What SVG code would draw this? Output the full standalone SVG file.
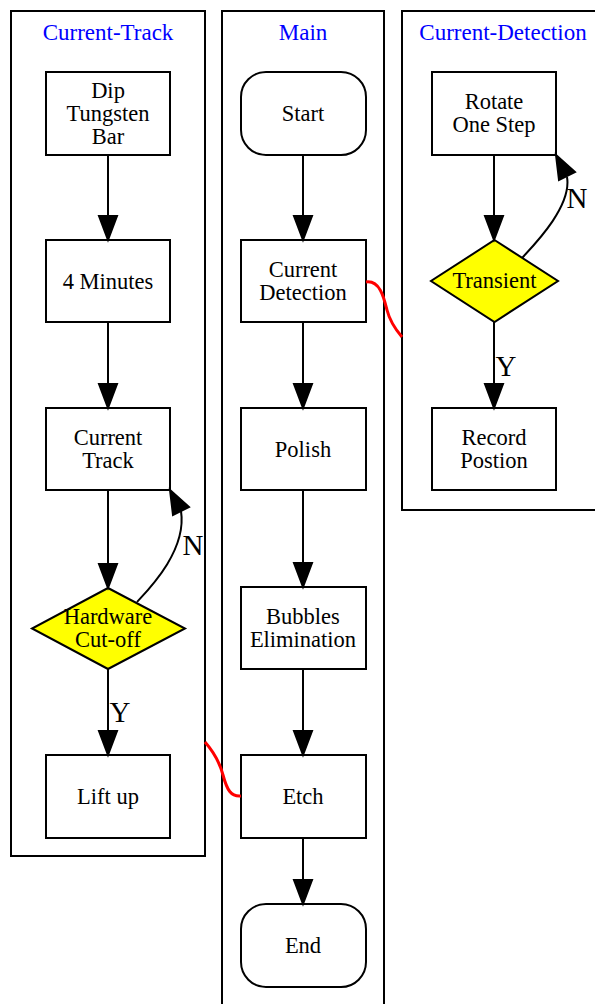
<svg xmlns="http://www.w3.org/2000/svg" width="595" height="1004" viewBox="0 0 595 1004">
<style>
.cl{fill:none;stroke:#000;stroke-width:2}
.cll{font-family:'Liberation Serif','Times New Roman',serif;font-size:23px;fill:#0000ff;text-anchor:middle}
.nd{fill:#fff;stroke:#000;stroke-width:2}
.dm{fill:#ffff00;stroke:#000;stroke-width:2}
.t{font-family:'Liberation Serif','Times New Roman',serif;font-size:22.5px;fill:#000;text-anchor:middle;dominant-baseline:central}
.e{fill:none;stroke:#000;stroke-width:2}
.ah{fill:#000;stroke:#000;stroke-width:2}
.r{fill:none;stroke:#ff0000;stroke-width:3}
.el{font-family:'Liberation Serif','Times New Roman',serif;font-size:29px;fill:#000;text-anchor:middle}
</style>
<rect width="595" height="1004" fill="#fff"/>
<g id="clusters">
<rect class="cl" x="11" y="11" width="194" height="845"/>
<text class="cll" x="108" y="40">Current-Track</text>
<rect class="cl" x="222" y="11" width="162" height="1010"/>
<text class="cll" x="303" y="40">Main</text>
<rect class="cl" x="402" y="11" width="210" height="499"/>
<text class="cll" x="503" y="40">Current-Detection</text>
</g>
<g id="n_dip"><rect class="nd" x="46" y="72" width="124" height="83"/><text class="t" x="108" y="90">Dip</text><text class="t" x="108" y="113">Tungsten</text><text class="t" x="108" y="136">Bar</text></g>
<g id="n_4min"><rect class="nd" x="46" y="240" width="124" height="82"/><text class="t" x="108" y="281">4 Minutes</text></g>
<g id="n_ctrack"><rect class="nd" x="46" y="408" width="124" height="82"/><text class="t" x="108" y="437">Current</text><text class="t" x="108" y="460">Track</text></g>
<g id="n_hw"><polygon class="dm" points="108,588 185,628.5 108,669 32,628.5"/><text class="t" x="108" y="616">Hardware</text><text class="t" x="108" y="639">Cut-off</text></g>
<g id="n_lift"><rect class="nd" x="46" y="755" width="124" height="83"/><text class="t" x="108" y="796">Lift up</text></g>
<g id="n_start"><rect class="nd" x="241" y="72" width="125" height="83" rx="25"/><text class="t" x="303" y="113">Start</text></g>
<g id="n_cdet"><rect class="nd" x="241" y="240" width="125" height="82"/><text class="t" x="303" y="269">Current</text><text class="t" x="303" y="292">Detection</text></g>
<g id="n_polish"><rect class="nd" x="241" y="408" width="125" height="82"/><text class="t" x="303" y="449">Polish</text></g>
<g id="n_bubbles"><rect class="nd" x="241" y="587" width="125" height="82"/><text class="t" x="303" y="616">Bubbles</text><text class="t" x="303" y="639">Elimination</text></g>
<g id="n_etch"><rect class="nd" x="241" y="755" width="125" height="83"/><text class="t" x="303" y="796">Etch</text></g>
<g id="n_end"><rect class="nd" x="241" y="904" width="125" height="83" rx="25"/><text class="t" x="303" y="945">End</text></g>
<g id="n_rotate"><rect class="nd" x="432" y="72" width="124" height="83"/><text class="t" x="494" y="101">Rotate</text><text class="t" x="494" y="124">One Step</text></g>
<g id="n_trans"><polygon class="dm" points="494.5,240 558,281 494.5,322 431,281"/><text class="t" x="494.5" y="280">Transient</text></g>
<g id="n_record"><rect class="nd" x="432" y="408" width="124" height="82"/><text class="t" x="494" y="437">Record</text><text class="t" x="494" y="460">Postion</text></g>
<g id="connectors">
<path class="e" d="M108,155V216"/><polygon class="ah" points="99,216 117,216 108,240"/>
<path class="e" d="M108,322V384"/><polygon class="ah" points="99,384 117,384 108,408"/>
<path class="e" d="M108,490V564"/><polygon class="ah" points="99,564 117,564 108,588"/>
<path class="e" d="M108,669V731"/><polygon class="ah" points="99,731 117,731 108,755"/>
<text class="el" x="120" y="722">Y</text>
<path class="e" d="M137,602C150,588 187,550 181,511"/><polygon class="ah" points="170,490 189,507 173,515"/>
<text class="el" x="193" y="555">N</text>
<path class="e" d="M303,155V216"/><polygon class="ah" points="294,216 312,216 303,240"/>
<path class="e" d="M303,322V384"/><polygon class="ah" points="294,384 312,384 303,408"/>
<path class="e" d="M303,490V563"/><polygon class="ah" points="294,563 312,563 303,587"/>
<path class="e" d="M303,669V731"/><polygon class="ah" points="294,731 312,731 303,755"/>
<path class="e" d="M303,838V880"/><polygon class="ah" points="294,880 312,880 303,904"/>
<path class="e" d="M494,155V216"/><polygon class="ah" points="485,216 503,216 494,240"/>
<path class="e" d="M494,322V384"/><polygon class="ah" points="485,384 503,384 494,408"/>
<text class="el" x="506" y="376">Y</text>
<path class="e" d="M522,258C535,244 572,206 567,177"/><polygon class="ah" points="556,155 575,172 559,180"/>
<text class="el" x="577" y="208">N</text>
<path class="r" d="M366,282C380,280 384,298 387,310C390,322 396,330 402,337"/>
<path class="r" d="M205,742C212,750 219,760 223,775C227,790 231,797 241,796"/>
</g>
</svg>
